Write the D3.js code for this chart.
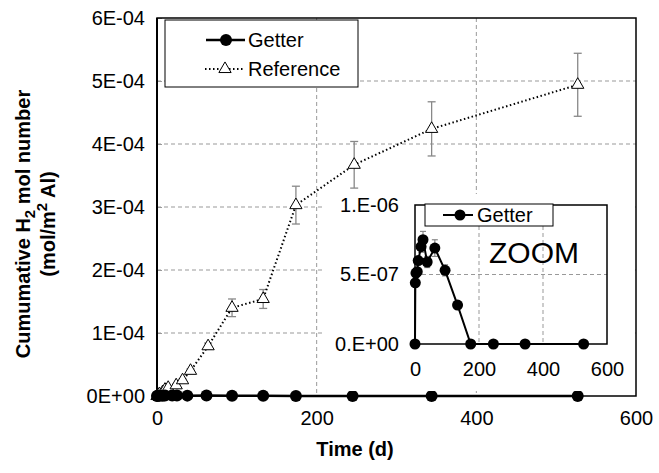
<!DOCTYPE html>
<html>
<head>
<meta charset="utf-8">
<title>Cumulative H2</title>
<style>
body { margin: 0; background: #fff; font-family: "Liberation Sans", Arial, sans-serif; }
.grid line { stroke: #999; stroke-dasharray: 4,3; stroke-width: 1; }
.tick text { font-size: 20px; fill: #000; font-family: "Liberation Sans", Arial, sans-serif; }
.axtitle { font-size: 20px; font-weight: bold; }
.leg { font-size: 20px; }
</style>
</head>
<body>
<div id="vis"></div>
<script src="https://cdnjs.cloudflare.com/ajax/libs/d3/7.8.5/d3.min.js"></script>
<script>
// getter series (days, mol/m2)
var gDays = [0, 1, 3, 7, 10, 19, 25, 38, 62, 94, 133, 174, 245, 344, 527];
var gVals = [0, 4.4e-7, 5.1e-7, 5.2e-7, 6.0e-7, 7.0e-7, 7.5e-7, 5.9e-7, 6.9e-7, 5.3e-7, 2.8e-7, 0, 0, 0, 0];
var gErr  = [0, 0.2e-7, 0.3e-7, 0.3e-7, 0.3e-7, 0.4e-7, 0.6e-7, 0.4e-7, 0.6e-7, 0.4e-7, 0.2e-7, 0, 0, 0, 0];

// reference series
var rDays = [0, 3, 7, 10, 14, 24, 32, 42, 64, 94, 133, 174, 247, 344, 527];
var rVals = [0, 0.03e-4, 0.06e-4, 0.10e-4, 0.13e-4, 0.17e-4, 0.25e-4, 0.40e-4, 0.79e-4, 1.40e-4, 1.54e-4, 3.03e-4, 3.67e-4, 4.24e-4, 4.94e-4];
var rErr  = [0, 0, 0, 0.01e-4, 0.01e-4, 0.02e-4, 0.02e-4, 0.03e-4, 0.05e-4, 0.14e-4, 0.15e-4, 0.30e-4, 0.37e-4, 0.43e-4, 0.50e-4];

var mainYTicks = [0, 1e-4, 2e-4, 3e-4, 4e-4, 5e-4, 6e-4];
var mainYLabels = ["0E+00", "1E-04", "2E-04", "3E-04", "4E-04", "5E-04", "6E-04"];
var xTicks = [0, 200, 400, 600];
var insetYTicks = [0, 5e-7, 1e-6];
var insetYLabels = ["0.E+00", "5.E-07", "1.E-06"];

var W = 659, H = 473;
var m = {left: 157, right: 636, top: 18, bottom: 396};

var svg = d3.select("#vis").append("svg")
    .attr("width", W).attr("height", H);

var x = d3.scaleLinear().domain([0, 600]).range([m.left, m.right]);
var y = d3.scaleLinear().domain([0, 6e-4]).range([m.bottom, m.top]);

// grid
var grid = svg.append("g").attr("class", "grid");
grid.selectAll(".gy").data(mainYTicks.slice(1, -1)).enter().append("line")
    .attr("x1", m.left).attr("x2", m.right)
    .attr("y1", function(d) { return y(d); }).attr("y2", function(d) { return y(d); });
grid.selectAll(".gx").data([200, 400]).enter().append("line")
    .attr("y1", m.top).attr("y2", m.bottom)
    .attr("x1", function(d) { return x(d); }).attr("x2", function(d) { return x(d); });

// axes
var yAxis = d3.axisLeft(y).tickValues(mainYTicks).tickSize(5).tickPadding(7)
    .tickFormat(function(d, i) { return mainYLabels[i]; });
var gy = svg.append("g").attr("transform", "translate(" + m.left + ",0)").call(yAxis);
gy.select(".domain").remove();
gy.selectAll(".tick line").attr("stroke", "#999").attr("x2", 5);

var xAxis = d3.axisBottom(x).tickValues(xTicks).tickSize(0).tickPadding(15);
var gx = svg.append("g").attr("transform", "translate(0," + m.bottom + ")").call(xAxis);
gx.select(".domain").remove();

// frame
svg.append("rect").attr("x", m.left).attr("y", m.top)
    .attr("width", m.right - m.left).attr("height", m.bottom - m.top)
    .attr("fill", "none").attr("stroke", "#000").attr("stroke-width", 1.5);
svg.append("line").attr("x1", m.left).attr("x2", m.left).attr("y1", m.top).attr("y2", m.bottom)
    .attr("stroke", "#000").attr("stroke-width", 2);

// axis titles
svg.append("text").attr("class", "axtitle").attr("text-anchor", "middle")
    .attr("x", 355).attr("y", 456).text("Time (d)");
var yt = svg.append("text").attr("class", "axtitle").attr("text-anchor", "middle")
    .attr("font-size", "22.5px")
    .attr("transform", "translate(30,224) rotate(-90)");
yt.append("tspan").text("Cumumative H");
yt.append("tspan").attr("font-size", "15px").attr("dy", 5).text("2");
yt.append("tspan").attr("dy", -5).text(" mol number");
var yt2 = svg.append("text").attr("class", "axtitle").attr("text-anchor", "middle")
    .attr("font-size", "22.5px")
    .attr("transform", "translate(55,224) rotate(-90)");
yt2.append("tspan").text("(mol/m");
yt2.append("tspan").attr("font-size", "15px").attr("dy", -8).text("2");
yt2.append("tspan").attr("dy", 8).text(" Al)");

// reference error bars
var refIdx = d3.range(rDays.length);
var eb = svg.append("g").attr("stroke", "#888").attr("stroke-width", 1.3);
refIdx.filter(function(i) { return rErr[i] > 0; }).forEach(function(i) {
  var cx = x(rDays[i]);
  eb.append("line").attr("x1", cx).attr("x2", cx)
    .attr("y1", y(rVals[i] - rErr[i])).attr("y2", y(rVals[i] + rErr[i]));
  [rVals[i] - rErr[i], rVals[i] + rErr[i]].forEach(function(v) {
    eb.append("line").attr("x1", cx - 4).attr("x2", cx + 4).attr("y1", y(v)).attr("y2", y(v));
  });
});

// reference line
var refLine = d3.line().x(function(i) { return x(rDays[i]); }).y(function(i) { return y(rVals[i]); });
svg.append("path").datum(refIdx).attr("d", refLine)
    .attr("fill", "none").attr("stroke", "#000").attr("stroke-width", 2)
    .attr("stroke-dasharray", "1.5,2.5");

var tri = d3.symbol().type(d3.symbolTriangle).size(65);
svg.selectAll(".tri").data(refIdx).enter().append("path")
    .attr("transform", function(i) { return "translate(" + x(rDays[i]) + "," + y(rVals[i]) + ")"; })
    .attr("d", tri).attr("fill", "#fff").attr("stroke", "#000").attr("stroke-width", 1);

// getter line (main)
var gIdx = d3.range(gDays.length);
var gLine = d3.line().x(function(i) { return x(gDays[i]); }).y(function(i) { return y(gVals[i]); });
svg.append("path").datum(gIdx).attr("d", gLine)
    .attr("fill", "none").attr("stroke", "#000").attr("stroke-width", 2.5);
svg.selectAll(".gdot").data(gIdx).enter().append("circle")
    .attr("cx", function(i) { return x(gDays[i]); })
    .attr("cy", function(i) { return y(gVals[i]); })
    .attr("r", 6).attr("fill", "#000");

// main legend
var lg = svg.append("g");
lg.append("rect").attr("x", 165).attr("y", 20).attr("width", 193).attr("height", 67)
    .attr("fill", "#fff").attr("stroke", "#000").attr("stroke-width", 1);
lg.append("line").attr("x1", 206).attr("x2", 245).attr("y1", 40).attr("y2", 40)
    .attr("stroke", "#000").attr("stroke-width", 2.5);
lg.append("circle").attr("cx", 226).attr("cy", 40).attr("r", 6).attr("fill", "#000");
lg.append("text").attr("class", "leg").attr("x", 248).attr("y", 47).text("Getter");
lg.append("line").attr("x1", 205).attr("x2", 245).attr("y1", 69).attr("y2", 69)
    .attr("stroke", "#000").attr("stroke-width", 2).attr("stroke-dasharray", "1.5,2.5");
lg.append("path").attr("transform", "translate(225,69)").attr("d", tri)
    .attr("fill", "#fff").attr("stroke", "#000");
lg.append("text").attr("class", "leg").attr("x", 248).attr("y", 76).text("Reference");

// ----- inset -----
var ins = {left: 415, right: 607, top: 205, bottom: 344};
svg.append("rect").attr("x", 322).attr("y", 194).attr("width", 313).attr("height", 197)
    .attr("fill", "#fff");

var xi = d3.scaleLinear().domain([0, 600]).range([ins.left, ins.right]);
var yi = d3.scaleLinear().domain([0, 1e-6]).range([ins.bottom, ins.top]);

var gi = svg.append("g").attr("class", "grid");
gi.selectAll(".iy").data([5e-7]).enter().append("line")
    .attr("x1", ins.left).attr("x2", ins.right)
    .attr("y1", function(d) { return yi(d); }).attr("y2", function(d) { return yi(d); });
gi.selectAll(".ix").data([200, 400]).enter().append("line")
    .attr("y1", ins.top).attr("y2", ins.bottom)
    .attr("x1", function(d) { return xi(d); }).attr("x2", function(d) { return xi(d); });

var giy = svg.append("g").attr("transform", "translate(" + ins.left + ",0)")
    .call(d3.axisLeft(yi).tickValues(insetYTicks).tickSize(0).tickPadding(16)
      .tickFormat(function(d, i) { return insetYLabels[i]; }));
giy.select(".domain").remove();
var gix = svg.append("g").attr("transform", "translate(0," + ins.bottom + ")")
    .call(d3.axisBottom(xi).tickValues(xTicks).tickSize(0).tickPadding(18));
gix.select(".domain").remove();

svg.append("rect").attr("x", ins.left).attr("y", ins.top)
    .attr("width", ins.right - ins.left).attr("height", ins.bottom - ins.top)
    .attr("fill", "none").attr("stroke", "#000").attr("stroke-width", 1.5);

// inset error bars
var ebi = svg.append("g").attr("stroke", "#888").attr("stroke-width", 1.2);
gIdx.filter(function(i) { return gErr[i] > 0; }).forEach(function(i) {
  var cx = xi(gDays[i]);
  ebi.append("line").attr("x1", cx).attr("x2", cx)
    .attr("y1", yi(gVals[i] - gErr[i])).attr("y2", yi(gVals[i] + gErr[i]));
  [gVals[i] - gErr[i], gVals[i] + gErr[i]].forEach(function(v) {
    ebi.append("line").attr("x1", cx - 3).attr("x2", cx + 3).attr("y1", yi(v)).attr("y2", yi(v));
  });
});

var gLineI = d3.line().x(function(i) { return xi(gDays[i]); }).y(function(i) { return yi(gVals[i]); });
svg.append("path").datum(gIdx).attr("d", gLineI)
    .attr("fill", "none").attr("stroke", "#000").attr("stroke-width", 2);
svg.selectAll(".gdoti").data(gIdx).enter().append("circle")
    .attr("cx", function(i) { return xi(gDays[i]); })
    .attr("cy", function(i) { return yi(gVals[i]); })
    .attr("r", 5.5).attr("fill", "#000");

// inset legend
var li = svg.append("g");
li.append("rect").attr("x", 425).attr("y", 204).attr("width", 128).attr("height", 22)
    .attr("fill", "#fff").attr("stroke", "#000").attr("stroke-width", 1);
li.append("line").attr("x1", 443).attr("x2", 473).attr("y1", 215).attr("y2", 215)
    .attr("stroke", "#000").attr("stroke-width", 2);
li.append("circle").attr("cx", 460).attr("cy", 215).attr("r", 5.5).attr("fill", "#000");
li.append("text").attr("class", "leg").attr("x", 477).attr("y", 222).text("Getter");

svg.append("text").attr("x", 489).attr("y", 263).attr("font-size", "30px").text("ZOOM");
</script>
</body>
</html>
